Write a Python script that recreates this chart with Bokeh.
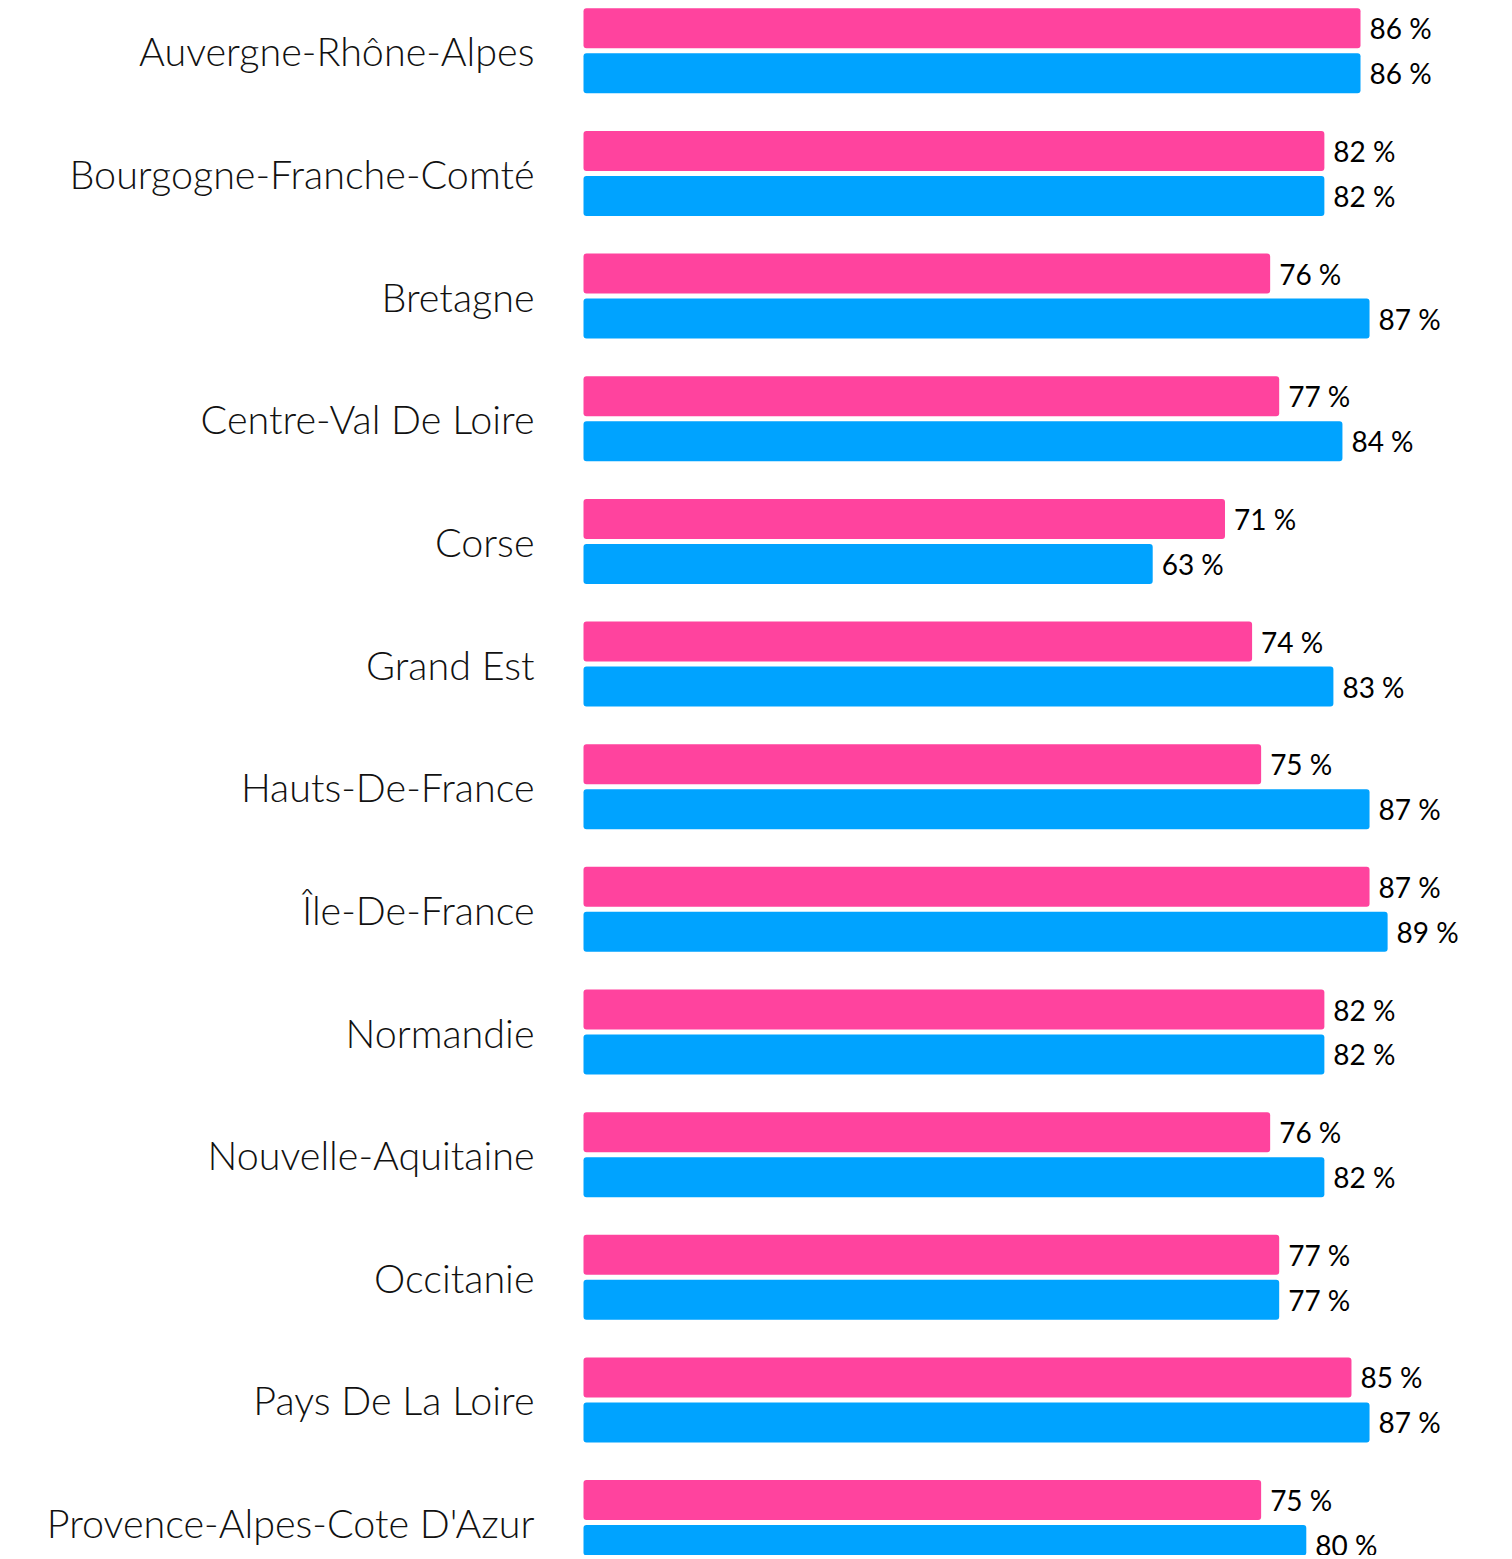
from bokeh.plotting import figure
from bokeh.models import Range1d, ColumnDataSource
from bokeh.core.properties import value
from bokeh.embed import file_html
from bokeh.resources import INLINE

regions = ["Auvergne-Rhône-Alpes", "Bourgogne-Franche-Comté", "Bretagne", "Centre-Val De Loire",
           "Corse", "Grand Est", "Hauts-De-France", "Île-De-France", "Normandie",
           "Nouvelle-Aquitaine", "Occitanie", "Pays De La Loire", "Provence-Alpes-Cote D'Azur"]
pink_vals = [86, 82, 76, 77, 71, 74, 75, 87, 82, 76, 77, 85, 75]
blue_vals = [86, 82, 87, 84, 63, 83, 87, 89, 82, 82, 77, 87, 80]

PINK = "#FF439E"
BLUE = "#00A3FF"

W, H = 1500, 1555
px_per_pct = 9.035
x0_px = 583
row_px = 122.65
top_off = 50.3 / row_px

p = figure(width=W, height=H, output_backend="svg", toolbar_location=None,
           x_range=Range1d(-x0_px / px_per_pct, (W - x0_px) / px_per_pct),
           y_range=Range1d(-top_off + H / row_px, -top_off),
           min_border=0, outline_line_color=None)
p.axis.visible = False
p.grid.visible = False

idx = list(range(len(regions)))
off = 0.1834
bh = 40 / row_px
src_p = ColumnDataSource(dict(y=[i - off for i in idx], v=pink_vals,
                              lab=[f"{v} %" for v in pink_vals]))
src_b = ColumnDataSource(dict(y=[i + off for i in idx], v=blue_vals,
                              lab=[f"{v} %" for v in blue_vals]))
src_c = ColumnDataSource(dict(y=idx, x=[0] * len(idx), name=regions))

p.hbar(y="y", left=0, right="v", height=bh, source=src_p, fill_color=PINK,
       line_color=None, border_radius=3)
p.hbar(y="y", left=0, right="v", height=bh, source=src_b, fill_color=BLUE,
       line_color=None, border_radius=3)

for s in (src_p, src_b):
    p.text(x="v", y="y", text="lab", source=s, x_offset=9, text_align="left",
           text_baseline="middle", text_font=value("Lato"), text_font_size="28px",
           text_color="#000000")

p.text(x="x", y="y", text="name", source=src_c, x_offset=-49, text_align="right",
       text_baseline="middle", text_font=value("Lato Light"), text_font_size="39.5px",
       text_color="#111111")

open("out.html", "w").write(file_html(p, INLINE))
